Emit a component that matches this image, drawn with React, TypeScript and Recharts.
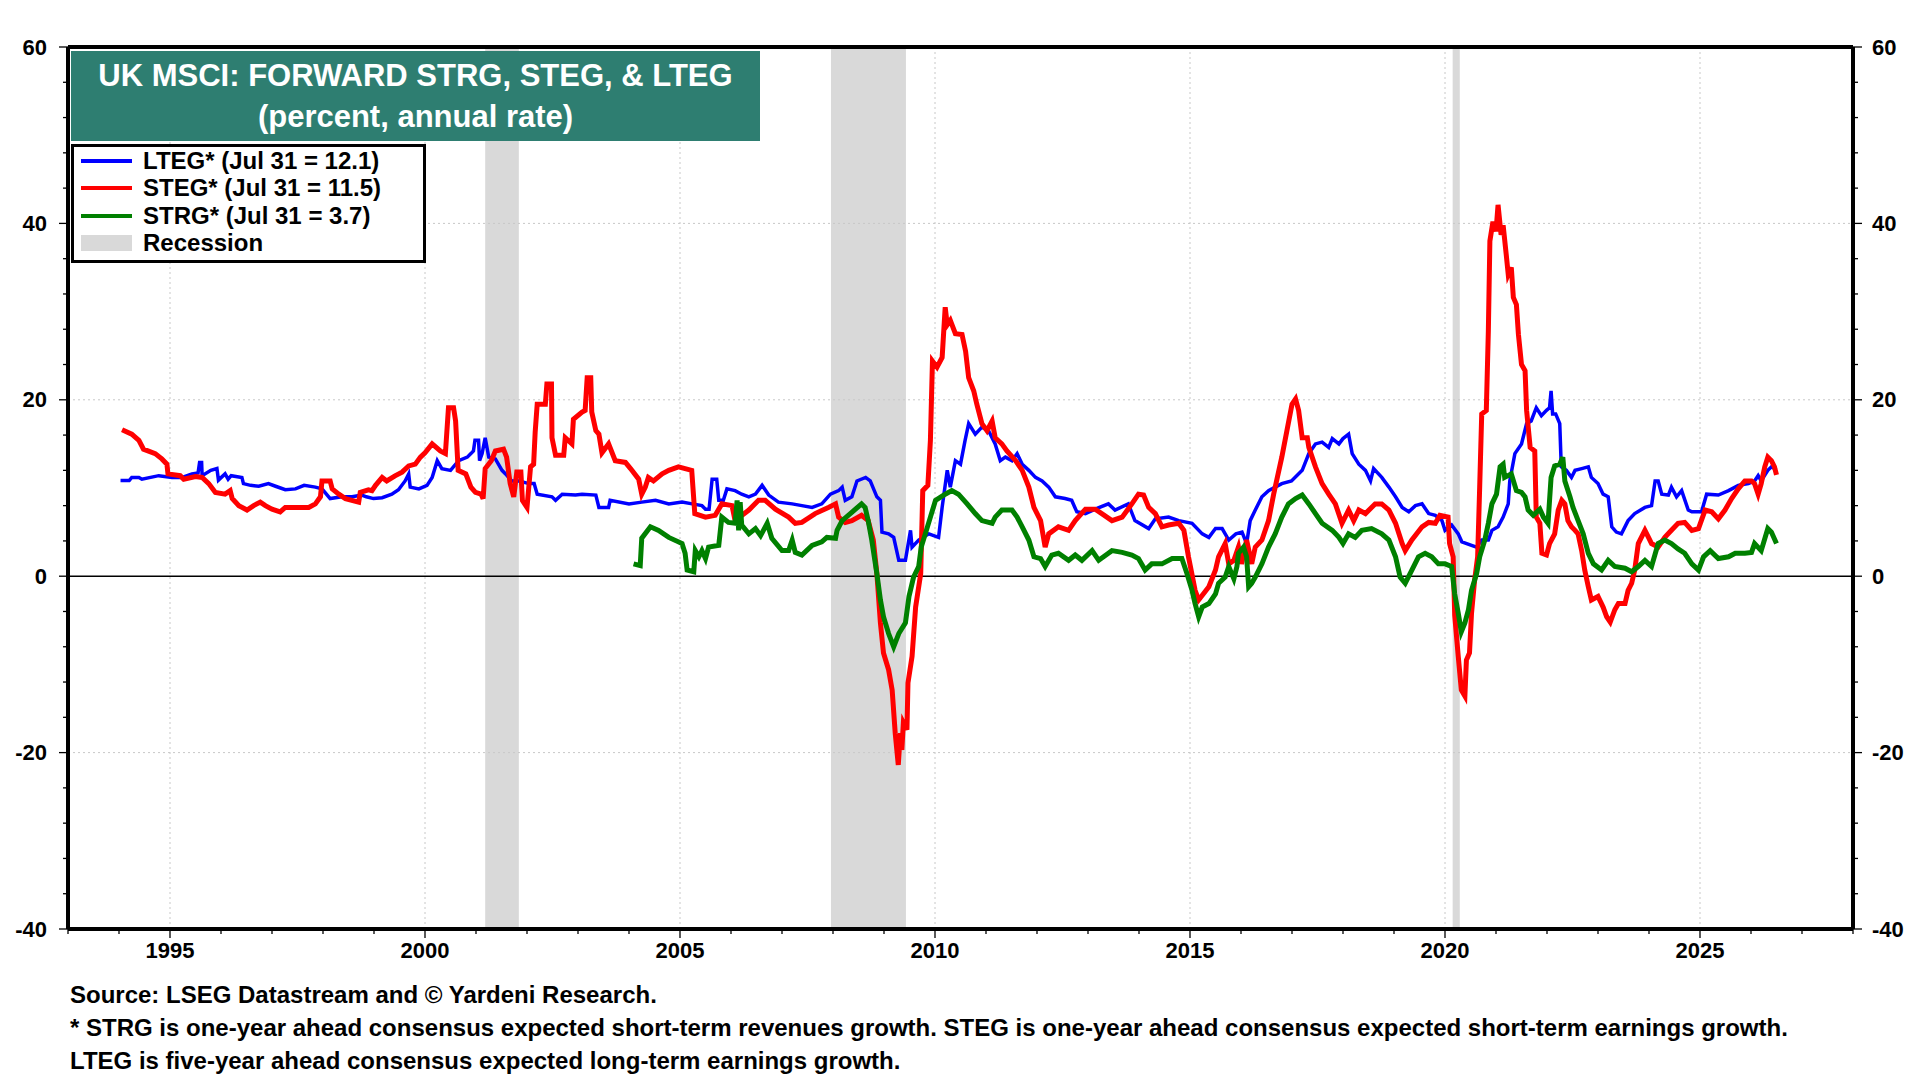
import React from 'react';
import { LineChart, Line, XAxis, YAxis, ReferenceArea, ReferenceLine } from 'recharts';

const FONT = '"Liberation Sans", Arial, Helvetica, sans-serif';

const ltegYears = [1994.03, 1994.2, 1994.25, 1994.39, 1994.45, 1994.78, 1995.04, 1995.24, 1995.43, 1995.55, 1995.58, 1995.62, 1995.63, 1995.8, 1995.92, 1995.95, 1996.08, 1996.14, 1996.2, 1996.41, 1996.44, 1996.58, 1996.74, 1996.93, 1997.07, 1997.26, 1997.46, 1997.63, 1997.85, 1997.98, 1998.14, 1998.37, 1998.57, 1998.76, 1998.85, 1998.99, 1999.16, 1999.35, 1999.48, 1999.61, 1999.68, 1999.71, 1999.88, 2000.04, 2000.14, 2000.24, 2000.33, 2000.5, 2000.66, 2000.83, 2000.9, 2000.95, 2000.98, 2001.05, 2001.07, 2001.12, 2001.18, 2001.25, 2001.38, 2001.51, 2001.58, 2001.7, 2001.84, 2002.04, 2002.14, 2002.2, 2002.49, 2002.56, 2002.69, 2002.95, 2003.08, 2003.35, 2003.41, 2003.6, 2003.63, 2004.0, 2004.25, 2004.52, 2004.78, 2005.04, 2005.24, 2005.43, 2005.5, 2005.57, 2005.63, 2005.72, 2005.76, 2005.85, 2005.92, 2006.08, 2006.21, 2006.35, 2006.48, 2006.61, 2006.74, 2006.93, 2007.2, 2007.39, 2007.59, 2007.78, 2007.95, 2008.11, 2008.18, 2008.24, 2008.37, 2008.47, 2008.64, 2008.73, 2008.86, 2008.93, 2008.96, 2009.09, 2009.19, 2009.29, 2009.42, 2009.52, 2009.55, 2009.68, 2009.88, 2010.07, 2010.14, 2010.24, 2010.3, 2010.4, 2010.5, 2010.59, 2010.66, 2010.79, 2010.92, 2011.05, 2011.18, 2011.28, 2011.38, 2011.51, 2011.61, 2011.71, 2011.84, 2011.97, 2012.1, 2012.23, 2012.36, 2012.55, 2012.68, 2012.78, 2012.95, 2013.14, 2013.4, 2013.53, 2013.79, 2013.92, 2014.19, 2014.32, 2014.58, 2014.78, 2015.04, 2015.24, 2015.37, 2015.5, 2015.63, 2015.76, 2015.9, 2016.02, 2016.11, 2016.18, 2016.28, 2016.41, 2016.54, 2016.67, 2016.8, 2016.99, 2017.2, 2017.33, 2017.46, 2017.59, 2017.72, 2017.79, 2017.92, 2018.0, 2018.11, 2018.18, 2018.31, 2018.44, 2018.54, 2018.6, 2018.76, 2018.9, 2019.03, 2019.16, 2019.29, 2019.42, 2019.55, 2019.68, 2019.81, 2019.94, 2020.0, 2020.13, 2020.26, 2020.33, 2020.52, 2020.62, 2020.72, 2020.85, 2020.92, 2021.04, 2021.14, 2021.24, 2021.27, 2021.37, 2021.5, 2021.6, 2021.69, 2021.79, 2021.89, 2021.99, 2022.05, 2022.08, 2022.11, 2022.17, 2022.25, 2022.28, 2022.38, 2022.48, 2022.55, 2022.68, 2022.81, 2022.87, 2023.0, 2023.1, 2023.2, 2023.27, 2023.36, 2023.46, 2023.59, 2023.72, 2023.92, 2024.05, 2024.12, 2024.18, 2024.25, 2024.38, 2024.44, 2024.54, 2024.64, 2024.77, 2024.84, 2025.03, 2025.13, 2025.36, 2025.56, 2025.75, 2025.95, 2026.07, 2026.14, 2026.2, 2026.33, 2026.4, 2026.5];
const ltegValues = [10.85, 10.85, 11.2, 11.2, 11.0, 11.4, 11.2, 11.2, 11.6, 11.7, 12.9, 12.9, 11.4, 12.0, 12.2, 10.9, 11.6, 11.0, 11.4, 11.2, 10.5, 10.3, 10.2, 10.5, 10.2, 9.8, 9.9, 10.3, 10.1, 9.9, 8.8, 9.0, 9.0, 9.2, 9.0, 8.8, 8.9, 9.3, 9.8, 10.8, 11.6, 10.1, 9.9, 10.3, 11.2, 13.1, 12.2, 12.0, 13.1, 13.5, 13.9, 14.2, 15.4, 15.4, 13.1, 13.9, 15.7, 13.5, 13.3, 12.0, 11.6, 10.8, 10.8, 10.5, 10.5, 9.3, 9.0, 8.6, 9.3, 9.2, 9.3, 9.2, 7.8, 7.8, 8.6, 8.2, 8.4, 8.6, 8.2, 8.4, 8.2, 8.0, 7.6, 7.6, 11.0, 11.0, 8.6, 8.6, 9.9, 9.7, 9.3, 9.0, 9.3, 10.3, 9.2, 8.4, 8.2, 8.0, 7.8, 8.2, 9.3, 9.7, 10.1, 8.6, 9.0, 10.8, 11.2, 10.8, 9.0, 8.6, 5.0, 4.8, 4.4, 1.8, 1.8, 5.2, 3.3, 4.1, 4.8, 4.4, 7.8, 12.0, 10.1, 13.1, 12.7, 15.4, 17.3, 16.1, 16.9, 16.5, 15.0, 13.1, 13.5, 13.1, 13.9, 12.7, 12.0, 11.2, 10.8, 10.1, 9.0, 8.8, 8.6, 7.3, 7.1, 7.6, 8.2, 7.5, 8.2, 6.3, 5.4, 6.5, 6.7, 6.3, 6.0, 4.8, 4.4, 5.4, 5.4, 4.1, 4.8, 5.0, 3.7, 6.3, 7.5, 9.0, 9.7, 10.1, 10.5, 10.8, 12.0, 13.9, 15.0, 15.2, 14.6, 15.6, 15.0, 15.6, 16.1, 13.9, 12.7, 12.0, 10.8, 12.2, 11.2, 10.1, 9.0, 7.8, 7.3, 8.0, 8.2, 7.1, 6.9, 6.3, 5.2, 5.8, 4.8, 3.9, 3.5, 3.3, 4.1, 4.1, 5.2, 5.6, 6.7, 8.2, 10.8, 13.9, 15.0, 17.3, 17.6, 19.1, 18.2, 18.8, 19.1, 21.0, 18.4, 18.4, 17.3, 12.4, 12.0, 11.2, 12.0, 12.2, 12.4, 11.2, 10.5, 9.3, 9.0, 5.6, 5.0, 4.8, 6.3, 7.1, 7.8, 8.0, 10.8, 10.8, 9.3, 9.2, 10.1, 9.0, 9.7, 7.5, 7.3, 7.3, 9.3, 9.2, 9.7, 10.3, 10.5, 10.8, 11.4, 10.8, 12.0, 12.4, 12.1];

const stegYears = [1994.06, 1994.25, 1994.39, 1994.48, 1994.71, 1994.84, 1994.94, 1994.96, 1995.2, 1995.27, 1995.5, 1995.63, 1995.76, 1995.89, 1996.08, 1996.18, 1996.22, 1996.35, 1996.51, 1996.64, 1996.77, 1996.87, 1997.0, 1997.16, 1997.26, 1997.72, 1997.85, 1997.95, 1997.98, 1998.14, 1998.18, 1998.31, 1998.44, 1998.7, 1998.73, 1998.89, 1998.96, 1999.03, 1999.16, 1999.25, 1999.42, 1999.55, 1999.68, 1999.81, 1999.91, 2000.0, 2000.14, 2000.3, 2000.4, 2000.46, 2000.56, 2000.6, 2000.65, 2000.8, 2000.9, 2000.99, 2001.1, 2001.14, 2001.18, 2001.3, 2001.38, 2001.54, 2001.6, 2001.67, 2001.74, 2001.8, 2001.88, 2001.91, 2002.0, 2002.07, 2002.13, 2002.16, 2002.2, 2002.36, 2002.39, 2002.48, 2002.49, 2002.56, 2002.72, 2002.75, 2002.88, 2002.91, 2003.08, 2003.14, 2003.18, 2003.25, 2003.27, 2003.35, 2003.41, 2003.47, 2003.6, 2003.73, 2003.93, 2004.03, 2004.19, 2004.25, 2004.32, 2004.38, 2004.48, 2004.65, 2004.78, 2004.97, 2005.1, 2005.23, 2005.29, 2005.5, 2005.69, 2005.82, 2006.02, 2006.08, 2006.35, 2006.54, 2006.67, 2006.87, 2007.13, 2007.26, 2007.39, 2007.65, 2007.91, 2008.05, 2008.11, 2008.24, 2008.37, 2008.56, 2008.69, 2008.79, 2008.86, 2008.93, 2008.99, 2009.09, 2009.16, 2009.22, 2009.28, 2009.32, 2009.35, 2009.38, 2009.45, 2009.47, 2009.55, 2009.62, 2009.72, 2009.76, 2009.86, 2009.91, 2009.95, 2010.04, 2010.14, 2010.2, 2010.24, 2010.3, 2010.4, 2010.53, 2010.6, 2010.66, 2010.76, 2010.82, 2010.92, 2011.02, 2011.12, 2011.18, 2011.31, 2011.41, 2011.58, 2011.71, 2011.84, 2011.94, 2012.07, 2012.16, 2012.23, 2012.42, 2012.62, 2012.75, 2012.95, 2013.14, 2013.27, 2013.47, 2013.67, 2013.86, 2013.99, 2014.09, 2014.19, 2014.32, 2014.45, 2014.58, 2014.78, 2014.88, 2014.97, 2015.1, 2015.17, 2015.37, 2015.5, 2015.56, 2015.69, 2015.76, 2015.86, 2015.95, 2016.01, 2016.11, 2016.21, 2016.28, 2016.41, 2016.54, 2016.64, 2016.8, 2016.9, 2017.0, 2017.07, 2017.13, 2017.2, 2017.3, 2017.33, 2017.46, 2017.59, 2017.72, 2017.85, 2017.98, 2018.11, 2018.21, 2018.31, 2018.44, 2018.63, 2018.76, 2018.9, 2019.03, 2019.16, 2019.22, 2019.35, 2019.55, 2019.68, 2019.81, 2019.9, 2020.06, 2020.09, 2020.16, 2020.19, 2020.26, 2020.32, 2020.39, 2020.42, 2020.48, 2020.52, 2020.58, 2020.64, 2020.68, 2020.72, 2020.81, 2020.85, 2020.88, 2020.94, 2021.0, 2021.04, 2021.1, 2021.14, 2021.2, 2021.24, 2021.3, 2021.34, 2021.4, 2021.44, 2021.5, 2021.57, 2021.6, 2021.67, 2021.76, 2021.79, 2021.86, 2021.9, 2021.99, 2022.05, 2022.15, 2022.22, 2022.29, 2022.35, 2022.41, 2022.48, 2022.55, 2022.61, 2022.68, 2022.74, 2022.81, 2022.87, 2023.0, 2023.1, 2023.17, 2023.24, 2023.33, 2023.4, 2023.53, 2023.59, 2023.66, 2023.72, 2023.79, 2023.92, 2023.99, 2024.05, 2024.18, 2024.31, 2024.44, 2024.57, 2024.7, 2024.84, 2024.97, 2025.1, 2025.23, 2025.36, 2025.49, 2025.62, 2025.75, 2025.88, 2026.01, 2026.07, 2026.14, 2026.2, 2026.27, 2026.33, 2026.4, 2026.46, 2026.5];
const stegValues = [16.6, 16.1, 15.4, 14.4, 13.9, 13.3, 12.7, 11.6, 11.4, 11.0, 11.3, 11.2, 10.5, 9.5, 9.3, 9.7, 8.8, 8.0, 7.5, 8.0, 8.4, 8.0, 7.6, 7.3, 7.8, 7.8, 8.2, 9.0, 10.8, 10.8, 9.9, 9.3, 8.8, 8.4, 9.5, 9.8, 9.7, 10.3, 11.2, 10.8, 11.4, 11.8, 12.5, 12.7, 13.5, 14.0, 15.0, 14.2, 13.9, 19.1, 19.1, 17.6, 12.0, 11.6, 10.1, 9.5, 9.3, 8.8, 12.2, 13.1, 14.2, 14.4, 13.5, 10.5, 9.0, 11.8, 11.8, 8.6, 7.8, 12.4, 12.7, 16.3, 19.5, 19.5, 21.8, 21.8, 15.7, 13.7, 13.7, 15.7, 15.0, 17.8, 18.6, 18.8, 22.5, 22.5, 18.6, 16.5, 16.1, 14.0, 15.0, 13.1, 12.9, 12.2, 11.0, 9.3, 10.1, 11.2, 10.8, 11.6, 12.0, 12.4, 12.2, 12.0, 7.1, 6.7, 6.9, 8.2, 8.0, 6.3, 7.5, 8.6, 8.6, 7.6, 6.7, 6.0, 6.1, 7.1, 7.8, 8.2, 6.7, 6.1, 6.3, 6.9, 6.3, 4.1, 0.3, -5.3, -8.7, -10.6, -12.9, -17.8, -21.4, -17.8, -19.7, -16.6, -17.4, -12.1, -9.1, -3.5, 0.3, 9.7, 10.3, 15.4, 24.4, 23.7, 24.8, 30.5, 28.5, 29.0, 27.5, 27.4, 25.5, 22.5, 21.0, 19.5, 17.3, 16.5, 17.6, 15.7, 15.0, 14.2, 13.1, 12.0, 10.1, 7.8, 6.3, 3.3, 4.8, 5.6, 5.2, 6.3, 7.6, 7.6, 7.1, 6.3, 6.7, 8.2, 9.3, 9.2, 7.8, 7.1, 5.6, 5.8, 6.0, 5.2, 2.2, -1.6, -2.7, -1.2, 0.7, 2.2, 3.7, 1.4, 1.8, 3.3, 1.4, 4.1, 1.4, 3.3, 4.1, 6.3, 9.3, 13.5, 16.5, 19.5, 20.1, 18.8, 15.7, 15.7, 14.6, 12.4, 10.5, 9.3, 8.2, 6.0, 7.5, 6.3, 7.5, 7.1, 8.2, 8.2, 7.5, 6.0, 3.7, 2.9, 4.1, 5.6, 6.1, 6.0, 6.9, 6.7, 3.7, 2.2, -4.4, -9.1, -12.9, -13.6, -9.5, -8.7, -4.2, -0.5, 2.2, 10.1, 18.4, 18.8, 27.8, 38.0, 40.2, 39.1, 42.1, 38.7, 39.8, 36.5, 34.2, 35.0, 31.6, 30.8, 27.4, 24.0, 23.3, 18.8, 14.6, 14.2, 6.7, 6.0, 2.6, 2.4, 3.7, 4.8, 7.5, 8.6, 8.2, 6.3, 5.6, 5.2, 4.8, 2.9, 0.7, -1.2, -2.7, -2.3, -3.5, -4.6, -5.2, -3.8, -3.1, -3.1, -1.6, -0.8, 0.7, 3.7, 5.2, 4.4, 3.7, 3.3, 4.4, 5.2, 6.0, 6.1, 5.2, 5.4, 7.5, 7.3, 6.5, 7.5, 8.8, 9.9, 10.8, 10.8, 10.5, 9.3, 10.5, 12.4, 13.5, 13.1, 12.4, 11.5];

const strgYears = [2004.09, 2004.22, 2004.25, 2004.42, 2004.58, 2004.78, 2005.04, 2005.1, 2005.14, 2005.27, 2005.3, 2005.37, 2005.43, 2005.5, 2005.56, 2005.76, 2005.82, 2005.95, 2006.08, 2006.12, 2006.15, 2006.18, 2006.21, 2006.35, 2006.48, 2006.58, 2006.71, 2006.8, 2007.0, 2007.13, 2007.2, 2007.26, 2007.39, 2007.59, 2007.78, 2007.88, 2008.05, 2008.08, 2008.18, 2008.34, 2008.56, 2008.63, 2008.69, 2008.76, 2008.86, 2008.93, 2008.99, 2009.09, 2009.19, 2009.29, 2009.42, 2009.49, 2009.58, 2009.68, 2009.73, 2009.81, 2009.91, 2010.01, 2010.2, 2010.33, 2010.46, 2010.63, 2010.79, 2010.92, 2011.12, 2011.18, 2011.31, 2011.51, 2011.61, 2011.71, 2011.84, 2011.94, 2012.07, 2012.16, 2012.29, 2012.42, 2012.62, 2012.75, 2012.88, 2013.08, 2013.21, 2013.4, 2013.47, 2013.67, 2013.86, 2013.99, 2014.12, 2014.25, 2014.45, 2014.65, 2014.84, 2014.94, 2015.04, 2015.1, 2015.17, 2015.24, 2015.37, 2015.5, 2015.56, 2015.69, 2015.76, 2015.86, 2015.92, 2015.95, 2016.05, 2016.11, 2016.15, 2016.21, 2016.28, 2016.41, 2016.54, 2016.67, 2016.8, 2016.93, 2017.07, 2017.2, 2017.33, 2017.46, 2017.59, 2017.79, 2017.92, 2018.0, 2018.11, 2018.24, 2018.37, 2018.56, 2018.76, 2018.9, 2019.03, 2019.12, 2019.22, 2019.35, 2019.48, 2019.61, 2019.74, 2019.87, 2020.0, 2020.13, 2020.19, 2020.26, 2020.32, 2020.39, 2020.46, 2020.52, 2020.62, 2020.68, 2020.78, 2020.85, 2020.92, 2021.01, 2021.08, 2021.14, 2021.17, 2021.3, 2021.4, 2021.5, 2021.57, 2021.63, 2021.73, 2021.86, 2021.93, 2022.02, 2022.08, 2022.15, 2022.25, 2022.31, 2022.35, 2022.45, 2022.51, 2022.61, 2022.71, 2022.81, 2022.91, 2023.07, 2023.2, 2023.33, 2023.53, 2023.66, 2023.79, 2023.92, 2024.05, 2024.18, 2024.31, 2024.44, 2024.57, 2024.7, 2024.84, 2024.97, 2025.07, 2025.2, 2025.36, 2025.56, 2025.69, 2025.88, 2026.01, 2026.07, 2026.2, 2026.33, 2026.4, 2026.5];
const strgValues = [1.4, 1.2, 4.3, 5.6, 5.2, 4.4, 3.7, 2.6, 0.7, 0.5, 2.9, 2.2, 2.9, 2.0, 3.3, 3.5, 6.7, 6.1, 6.0, 8.6, 5.2, 8.4, 5.8, 4.8, 5.4, 4.6, 6.0, 4.3, 2.9, 2.9, 4.1, 2.7, 2.4, 3.5, 3.9, 4.4, 4.3, 5.2, 6.3, 7.1, 8.2, 7.8, 6.3, 4.1, 0.3, -2.7, -4.6, -6.5, -8.0, -6.5, -5.3, -2.3, -0.1, 1.1, 3.3, 4.8, 6.7, 8.6, 9.3, 9.7, 9.3, 8.2, 7.1, 6.3, 6.0, 6.7, 7.5, 7.5, 6.7, 5.6, 4.1, 2.2, 2.0, 1.1, 2.4, 2.6, 1.8, 2.4, 1.8, 2.9, 1.8, 2.6, 2.9, 2.7, 2.4, 2.0, 0.7, 1.4, 1.4, 2.0, 2.0, 0.3, -1.6, -3.1, -4.6, -3.5, -3.1, -2.0, -0.8, -0.1, 1.1, -0.3, 1.1, 2.6, 3.3, 2.2, -1.2, -0.8, -0.1, 1.4, 3.3, 4.8, 6.7, 8.2, 8.8, 9.2, 8.2, 7.1, 6.0, 5.2, 4.4, 3.7, 4.8, 4.4, 5.2, 5.4, 4.8, 4.1, 2.2, -0.1, -0.8, 0.7, 2.2, 2.6, 2.2, 1.4, 1.4, 1.1, -2.0, -4.2, -6.3, -5.3, -3.8, -1.6, 0.3, 2.2, 4.1, 6.0, 8.2, 9.3, 12.4, 12.7, 11.2, 11.6, 9.7, 9.5, 9.0, 7.5, 6.9, 7.6, 6.7, 6.0, 11.2, 12.5, 12.7, 13.5, 10.8, 9.0, 7.8, 6.3, 4.8, 2.6, 1.4, 0.7, 1.8, 1.1, 0.9, 0.5, 1.1, 1.8, 1.1, 3.7, 4.1, 3.7, 3.1, 2.6, 1.4, 0.7, 2.2, 2.9, 2.0, 2.2, 2.6, 2.6, 2.7, 3.7, 2.9, 5.4, 5.0, 3.7];

const recessionStarts = [2001.18, 2007.96, 2020.15];
const recessionEnds = [2001.84, 2009.43, 2020.29];

const yearTicks = [1993, 1994, 1995, 1996, 1997, 1998, 1999, 2000, 2001, 2002, 2003, 2004, 2005, 2006, 2007, 2008, 2009, 2010, 2011, 2012, 2013, 2014, 2015, 2016, 2017, 2018, 2019, 2020, 2021, 2022, 2023, 2024, 2025, 2026, 2027, 2028];
const yearLabels = [1995, 2000, 2005, 2010, 2015, 2020, 2025];
const valueTicks = [-40, -36, -32, -28, -24, -20, -16, -12, -8, -4, 0, 4, 8, 12, 16, 20, 24, 28, 32, 36, 40, 44, 48, 52, 56, 60];
const valueLabels = [-40, -20, 0, 20, 40, 60];
const gridValues = [-20, 20, 40];

const titleLines = ['UK MSCI: FORWARD STRG, STEG, & LTEG', '(percent, annual rate)'];
const legendLabels = ['LTEG* (Jul 31 = 12.1)', 'STEG* (Jul 31 = 11.5)', 'STRG* (Jul 31 = 3.7)', 'Recession'];
const footerLines = [
  'Source: LSEG Datastream and \u00A9 Yardeni Research.',
  '* STRG is one-year ahead consensus expected short-term revenues growth. STEG is one-year ahead consensus expected short-term earnings growth.',
  'LTEG is five-year ahead consensus expected long-term earnings growth.',
];

const toPoints = (xs: number[], ys: number[]) => xs.map((x, i) => ({ x, y: ys[i] }));
const ltegData = toPoints(ltegYears, ltegValues);
const stegData = toPoints(stegYears, stegValues);
const strgData = toPoints(strgYears, strgValues);

const BLUE = '#0000ff';
const RED = '#ff0000';
const GREEN = '#008000';
const TEAL = '#2e7e71';
const GRAY = '#d9d9d9';

const LeftTick = (props: any) => {
  const { x, y, payload } = props;
  const major = valueLabels.includes(payload.value);
  return (
    <g>
      <line x1={x - (major ? 9 : 5)} x2={x} y1={y} y2={y} stroke="#000" strokeWidth={1.3} />
      {major && (
        <text x={x - 21} y={y} textAnchor="end" dominantBaseline="central" fontFamily={FONT} fontWeight="bold" fontSize={22} fill="#000">
          {payload.value}
        </text>
      )}
    </g>
  );
};

const RightTick = (props: any) => {
  const { x, y, payload } = props;
  const major = valueLabels.includes(payload.value);
  return (
    <g>
      <line x1={x} x2={x + (major ? 9 : 5)} y1={y} y2={y} stroke="#000" strokeWidth={1.3} />
      {major && (
        <text x={x + 19} y={y} textAnchor="start" dominantBaseline="central" fontFamily={FONT} fontWeight="bold" fontSize={22} fill="#000">
          {payload.value}
        </text>
      )}
    </g>
  );
};

const BottomTick = (props: any) => {
  const { x, y, payload } = props;
  const major = yearLabels.includes(payload.value);
  return (
    <g>
      <line x1={x} x2={x} y1={y} y2={y + (major ? 9 : 5)} stroke="#000" strokeWidth={1.3} />
      {major && (
        <text x={x} y={y + 21} textAnchor="middle" dominantBaseline="central" fontFamily={FONT} fontWeight="bold" fontSize={22} fill="#000">
          {payload.value}
        </text>
      )}
    </g>
  );
};

const legendColors = [BLUE, RED, GREEN];
const legendRowY = [161, 188, 216, 243];

export default function App() {
  return (
    <div style={{ position: 'absolute', left: 0, top: 0, width: 1920, height: 1080, background: '#fff', fontFamily: FONT, overflow: 'hidden' }}>
      <LineChart width={1920} height={1080} margin={{ top: 47, right: 0, bottom: 111, left: 0 }}>
        <XAxis
          xAxisId="x"
          dataKey="x"
          type="number"
          domain={[1993, 2028]}
          ticks={yearTicks}
          interval={0}
          allowDataOverflow
          height={40}
          tickSize={0}
          tickMargin={0}
          tick={<BottomTick />}
          axisLine={{ stroke: '#000', strokeWidth: 4 }}
          tickLine={false}
        />
        <YAxis
          yAxisId="left"
          type="number"
          domain={[-40, 60]}
          ticks={valueTicks}
          interval={0}
          allowDataOverflow
          width={68}
          tickSize={0}
          tickMargin={0}
          tick={<LeftTick />}
          axisLine={{ stroke: '#000', strokeWidth: 4 }}
          tickLine={false}
        />
        <YAxis
          yAxisId="right"
          orientation="right"
          type="number"
          domain={[-40, 60]}
          ticks={valueTicks}
          interval={0}
          allowDataOverflow
          width={67}
          tickSize={0}
          tickMargin={0}
          tick={<RightTick />}
          axisLine={{ stroke: '#000', strokeWidth: 4 }}
          tickLine={false}
        />
        {recessionStarts.map((s, i) => (
          <ReferenceArea key={'r' + i} xAxisId="x" yAxisId="left" x1={s} x2={recessionEnds[i]} y1={-40} y2={60} fill={GRAY} fillOpacity={1} stroke="none" ifOverflow="hidden" />
        ))}
        {gridValues.map((v) => (
          <ReferenceLine key={'gy' + v} xAxisId="x" yAxisId="left" y={v} stroke="#c8c8c8" strokeWidth={1} strokeDasharray="2 3" />
        ))}
        {yearLabels.map((v) => (
          <ReferenceLine key={'gx' + v} xAxisId="x" yAxisId="left" x={v} stroke="#c8c8c8" strokeWidth={1} strokeDasharray="2 3" />
        ))}
        <ReferenceLine xAxisId="x" yAxisId="left" y={0} stroke="#000" strokeWidth={1.6} />
        <ReferenceLine xAxisId="x" yAxisId="left" y={60} stroke="#000" strokeWidth={4} />
        <Line xAxisId="x" yAxisId="left" data={ltegData} dataKey="y" type="linear" stroke={BLUE} strokeWidth={3.5} dot={false} activeDot={false} isAnimationActive={false} />
        <Line xAxisId="x" yAxisId="left" data={stegData} dataKey="y" type="linear" stroke={RED} strokeWidth={5} dot={false} activeDot={false} isAnimationActive={false} />
        <Line xAxisId="x" yAxisId="left" data={strgData} dataKey="y" type="linear" stroke={GREEN} strokeWidth={5} dot={false} activeDot={false} isAnimationActive={false} />
      </LineChart>

      <div style={{ position: 'absolute', left: 71, top: 51, width: 689, height: 90, background: TEAL, color: '#fff', fontWeight: 'bold', fontSize: 31, textAlign: 'center', lineHeight: '41px', paddingTop: 4, boxSizing: 'border-box' }}>
        <div>{titleLines[0]}</div>
        <div>{titleLines[1]}</div>
      </div>

      <div style={{ position: 'absolute', left: 71, top: 144, width: 355, height: 119, background: '#fff', border: '3px solid #000', boxSizing: 'border-box' }} />
      {legendLabels.map((label, i) => (
        <React.Fragment key={label}>
          {i < 3 ? (
            <div style={{ position: 'absolute', left: 81, top: legendRowY[i] - 2, width: 51, height: 4, background: legendColors[i] }} />
          ) : (
            <div style={{ position: 'absolute', left: 81, top: legendRowY[i] - 8, width: 51, height: 16, background: GRAY }} />
          )}
          <div style={{ position: 'absolute', left: 143, top: legendRowY[i] - 14, height: 28, lineHeight: '28px', fontWeight: 'bold', fontSize: 24, color: '#000', whiteSpace: 'nowrap' }}>
            {label}
          </div>
        </React.Fragment>
      ))}

      {footerLines.map((line, i) => (
        <div key={i} style={{ position: 'absolute', left: 70, top: 995 + i * 33 - 14, height: 28, lineHeight: '28px', fontWeight: 'bold', fontSize: 24, color: '#000', whiteSpace: 'nowrap' }}>
          {line}
        </div>
      ))}
    </div>
  );
}
